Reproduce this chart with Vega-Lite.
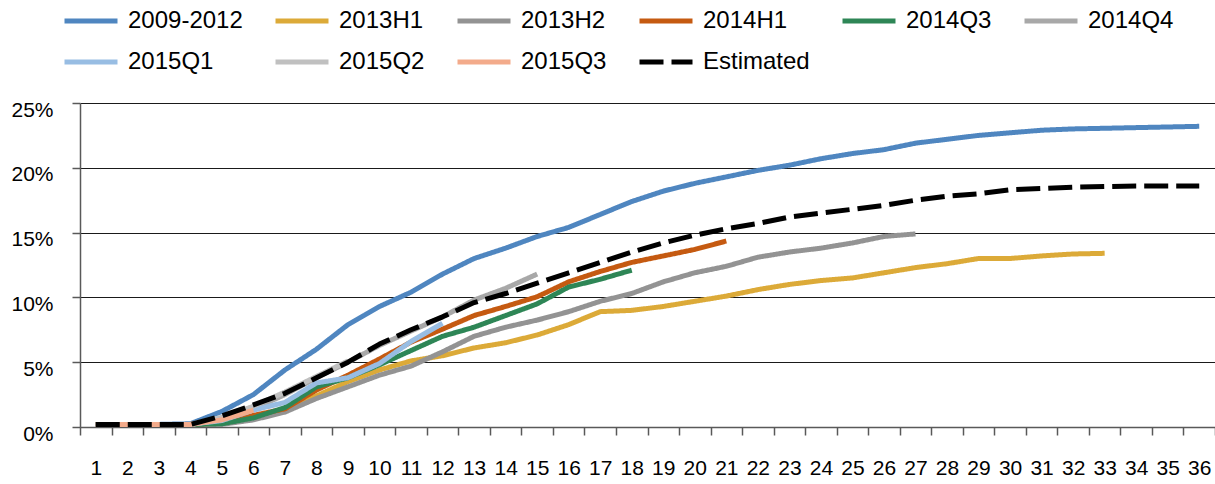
{
  "$schema": "https://vega.github.io/schema/vega-lite/v6.json",
  "autosize": {"type": "none"},
  "padding": {"left": 80, "top": 103, "right": 0, "bottom": 57},
  "width": 1135,
  "height": 324,
  "background": "white",
  "config": {
    "font": "Liberation Sans",
    "view": {"stroke": null}
  },
  "data": {
    "values": [
      {"s":"2009-2012","x":1,"v":0.2},{"s":"2009-2012","x":2,"v":0.2},{"s":"2009-2012","x":3,"v":0.2},{"s":"2009-2012","x":4,"v":0.25},{"s":"2009-2012","x":5,"v":1.2},{"s":"2009-2012","x":6,"v":2.5},{"s":"2009-2012","x":7,"v":4.4},{"s":"2009-2012","x":8,"v":6.0},{"s":"2009-2012","x":9,"v":7.9},{"s":"2009-2012","x":10,"v":9.3},{"s":"2009-2012","x":11,"v":10.4},{"s":"2009-2012","x":12,"v":11.8},{"s":"2009-2012","x":13,"v":13.0},{"s":"2009-2012","x":14,"v":13.8},{"s":"2009-2012","x":15,"v":14.7},{"s":"2009-2012","x":16,"v":15.4},{"s":"2009-2012","x":17,"v":16.4},{"s":"2009-2012","x":18,"v":17.4},{"s":"2009-2012","x":19,"v":18.2},{"s":"2009-2012","x":20,"v":18.8},{"s":"2009-2012","x":21,"v":19.3},{"s":"2009-2012","x":22,"v":19.8},{"s":"2009-2012","x":23,"v":20.2},{"s":"2009-2012","x":24,"v":20.7},{"s":"2009-2012","x":25,"v":21.1},{"s":"2009-2012","x":26,"v":21.4},{"s":"2009-2012","x":27,"v":21.9},{"s":"2009-2012","x":28,"v":22.2},{"s":"2009-2012","x":29,"v":22.5},{"s":"2009-2012","x":30,"v":22.7},{"s":"2009-2012","x":31,"v":22.9},{"s":"2009-2012","x":32,"v":23.0},{"s":"2009-2012","x":33,"v":23.05},{"s":"2009-2012","x":34,"v":23.1},{"s":"2009-2012","x":35,"v":23.15},{"s":"2009-2012","x":36,"v":23.2},
      {"s":"2013H1","x":1,"v":0.2},{"s":"2013H1","x":2,"v":0.2},{"s":"2013H1","x":3,"v":0.2},{"s":"2013H1","x":4,"v":0.2},{"s":"2013H1","x":5,"v":0.3},{"s":"2013H1","x":6,"v":0.7},{"s":"2013H1","x":7,"v":1.4},{"s":"2013H1","x":8,"v":2.4},{"s":"2013H1","x":9,"v":3.5},{"s":"2013H1","x":10,"v":4.4},{"s":"2013H1","x":11,"v":5.1},{"s":"2013H1","x":12,"v":5.5},{"s":"2013H1","x":13,"v":6.1},{"s":"2013H1","x":14,"v":6.5},{"s":"2013H1","x":15,"v":7.1},{"s":"2013H1","x":16,"v":7.9},{"s":"2013H1","x":17,"v":8.9},{"s":"2013H1","x":18,"v":9.0},{"s":"2013H1","x":19,"v":9.3},{"s":"2013H1","x":20,"v":9.7},{"s":"2013H1","x":21,"v":10.1},{"s":"2013H1","x":22,"v":10.6},{"s":"2013H1","x":23,"v":11.0},{"s":"2013H1","x":24,"v":11.3},{"s":"2013H1","x":25,"v":11.5},{"s":"2013H1","x":26,"v":11.9},{"s":"2013H1","x":27,"v":12.3},{"s":"2013H1","x":28,"v":12.6},{"s":"2013H1","x":29,"v":13.0},{"s":"2013H1","x":30,"v":13.0},{"s":"2013H1","x":31,"v":13.2},{"s":"2013H1","x":32,"v":13.35},{"s":"2013H1","x":33,"v":13.4},
      {"s":"2013H2","x":1,"v":0.2},{"s":"2013H2","x":2,"v":0.2},{"s":"2013H2","x":3,"v":0.2},{"s":"2013H2","x":4,"v":0.2},{"s":"2013H2","x":5,"v":0.2},{"s":"2013H2","x":6,"v":0.55},{"s":"2013H2","x":7,"v":1.15},{"s":"2013H2","x":8,"v":2.2},{"s":"2013H2","x":9,"v":3.1},{"s":"2013H2","x":10,"v":4.0},{"s":"2013H2","x":11,"v":4.7},{"s":"2013H2","x":12,"v":5.8},{"s":"2013H2","x":13,"v":7.0},{"s":"2013H2","x":14,"v":7.7},{"s":"2013H2","x":15,"v":8.25},{"s":"2013H2","x":16,"v":8.9},{"s":"2013H2","x":17,"v":9.7},{"s":"2013H2","x":18,"v":10.3},{"s":"2013H2","x":19,"v":11.2},{"s":"2013H2","x":20,"v":11.9},{"s":"2013H2","x":21,"v":12.4},{"s":"2013H2","x":22,"v":13.1},{"s":"2013H2","x":23,"v":13.5},{"s":"2013H2","x":24,"v":13.8},{"s":"2013H2","x":25,"v":14.2},{"s":"2013H2","x":26,"v":14.7},{"s":"2013H2","x":27,"v":14.9},
      {"s":"2014H1","x":1,"v":0.2},{"s":"2014H1","x":2,"v":0.2},{"s":"2014H1","x":3,"v":0.2},{"s":"2014H1","x":4,"v":0.2},{"s":"2014H1","x":5,"v":0.3},{"s":"2014H1","x":6,"v":0.9},{"s":"2014H1","x":7,"v":1.4},{"s":"2014H1","x":8,"v":2.85},{"s":"2014H1","x":9,"v":4.0},{"s":"2014H1","x":10,"v":5.25},{"s":"2014H1","x":11,"v":6.55},{"s":"2014H1","x":12,"v":7.55},{"s":"2014H1","x":13,"v":8.6},{"s":"2014H1","x":14,"v":9.3},{"s":"2014H1","x":15,"v":10.05},{"s":"2014H1","x":16,"v":11.2},{"s":"2014H1","x":17,"v":12.0},{"s":"2014H1","x":18,"v":12.7},{"s":"2014H1","x":19,"v":13.2},{"s":"2014H1","x":20,"v":13.7},{"s":"2014H1","x":21,"v":14.35},
      {"s":"2014Q3","x":1,"v":0.2},{"s":"2014Q3","x":2,"v":0.2},{"s":"2014Q3","x":3,"v":0.2},{"s":"2014Q3","x":4,"v":0.2},{"s":"2014Q3","x":5,"v":0.25},{"s":"2014Q3","x":6,"v":0.7},{"s":"2014Q3","x":7,"v":1.5},{"s":"2014Q3","x":8,"v":3.1},{"s":"2014Q3","x":9,"v":3.8},{"s":"2014Q3","x":10,"v":4.8},{"s":"2014Q3","x":11,"v":5.9},{"s":"2014Q3","x":12,"v":7.0},{"s":"2014Q3","x":13,"v":7.7},{"s":"2014Q3","x":14,"v":8.6},{"s":"2014Q3","x":15,"v":9.5},{"s":"2014Q3","x":16,"v":10.8},{"s":"2014Q3","x":17,"v":11.4},{"s":"2014Q3","x":18,"v":12.1},
      {"s":"2014Q4","x":1,"v":0.2},{"s":"2014Q4","x":2,"v":0.2},{"s":"2014Q4","x":3,"v":0.2},{"s":"2014Q4","x":4,"v":0.2},{"s":"2014Q4","x":5,"v":0.6},{"s":"2014Q4","x":6,"v":1.4},{"s":"2014Q4","x":7,"v":2.5},{"s":"2014Q4","x":8,"v":3.8},{"s":"2014Q4","x":9,"v":5.0},{"s":"2014Q4","x":10,"v":6.3},{"s":"2014Q4","x":11,"v":7.4},{"s":"2014Q4","x":12,"v":8.5},{"s":"2014Q4","x":13,"v":9.8},{"s":"2014Q4","x":14,"v":10.7},{"s":"2014Q4","x":15,"v":11.8},
      {"s":"2015Q1","x":1,"v":0.2},{"s":"2015Q1","x":2,"v":0.2},{"s":"2015Q1","x":3,"v":0.2},{"s":"2015Q1","x":4,"v":0.2},{"s":"2015Q1","x":5,"v":0.5},{"s":"2015Q1","x":6,"v":1.3},{"s":"2015Q1","x":7,"v":1.9},{"s":"2015Q1","x":8,"v":3.4},{"s":"2015Q1","x":9,"v":3.8},{"s":"2015Q1","x":10,"v":4.9},{"s":"2015Q1","x":11,"v":6.6},{"s":"2015Q1","x":12,"v":8.0},
      {"s":"2015Q2","x":1,"v":0.2},{"s":"2015Q2","x":2,"v":0.2},{"s":"2015Q2","x":3,"v":0.2},{"s":"2015Q2","x":4,"v":0.2},{"s":"2015Q2","x":5,"v":0.75},{"s":"2015Q2","x":6,"v":1.6},{"s":"2015Q2","x":7,"v":2.7},{"s":"2015Q2","x":8,"v":3.9},{"s":"2015Q2","x":9,"v":5.1},
      {"s":"2015Q3","x":1,"v":0.2},{"s":"2015Q3","x":2,"v":0.2},{"s":"2015Q3","x":3,"v":0.2},{"s":"2015Q3","x":4,"v":0.2},{"s":"2015Q3","x":5,"v":0.55},{"s":"2015Q3","x":6,"v":1.3},
      {"s":"Estimated","x":1,"v":0.2},{"s":"Estimated","x":2,"v":0.2},{"s":"Estimated","x":3,"v":0.2},{"s":"Estimated","x":4,"v":0.2},{"s":"Estimated","x":5,"v":0.85},{"s":"Estimated","x":6,"v":1.7},{"s":"Estimated","x":7,"v":2.6},{"s":"Estimated","x":8,"v":3.8},{"s":"Estimated","x":9,"v":5.0},{"s":"Estimated","x":10,"v":6.4},{"s":"Estimated","x":11,"v":7.5},{"s":"Estimated","x":12,"v":8.5},{"s":"Estimated","x":13,"v":9.6},{"s":"Estimated","x":14,"v":10.3},{"s":"Estimated","x":15,"v":11.1},{"s":"Estimated","x":16,"v":11.9},{"s":"Estimated","x":17,"v":12.7},{"s":"Estimated","x":18,"v":13.5},{"s":"Estimated","x":19,"v":14.2},{"s":"Estimated","x":20,"v":14.8},{"s":"Estimated","x":21,"v":15.3},{"s":"Estimated","x":22,"v":15.7},{"s":"Estimated","x":23,"v":16.2},{"s":"Estimated","x":24,"v":16.5},{"s":"Estimated","x":25,"v":16.8},{"s":"Estimated","x":26,"v":17.1},{"s":"Estimated","x":27,"v":17.5},{"s":"Estimated","x":28,"v":17.8},{"s":"Estimated","x":29,"v":18.0},{"s":"Estimated","x":30,"v":18.3},{"s":"Estimated","x":31,"v":18.4},{"s":"Estimated","x":32,"v":18.5},{"s":"Estimated","x":33,"v":18.55},{"s":"Estimated","x":34,"v":18.6},{"s":"Estimated","x":35,"v":18.6},{"s":"Estimated","x":36,"v":18.6}
    ]
  },
  "mark": {"type": "line", "strokeWidth": 5, "strokeJoin": "round", "strokeCap": "butt"},
  "encoding": {
    "x": {
      "field": "x", "type": "ordinal", "bandPosition": 0.5,
      "scale": {"type": "band", "paddingInner": 0, "paddingOuter": 0},
      "axis": {
        "title": null, "labelAngle": 0, "tickBand": "extent", "grid": false,
        "domainColor": "#595959", "domainWidth": 1.5, "tickColor": "#595959", "tickWidth": 1.5, "tickSize": 8,
        "labelFont": "Liberation Sans", "labelFontSize": 21, "labelColor": "#000000", "labelPadding": 22
      }
    },
    "y": {
      "field": "v", "type": "quantitative",
      "scale": {"domain": [0, 25], "nice": false, "zero": true},
      "axis": {
        "title": null, "values": [0, 5, 10, 15, 20, 25], "labelExpr": "datum.value + '%'",
        "grid": true, "gridColor": "#1a1a1a", "gridWidth": 1.2,
        "domainColor": "#595959", "domainWidth": 1.5, "tickColor": "#595959", "tickWidth": 1.5, "tickSize": 8,
        "labelFont": "Liberation Sans", "labelFontSize": 21, "labelColor": "#000000", "labelPadding": 19,
        "labelOffset": 7
      }
    },
    "color": {
      "field": "s", "type": "nominal",
      "scale": {
        "domain": ["2009-2012", "2013H1", "2013H2", "2014H1", "2014Q3", "2014Q4", "2015Q1", "2015Q2", "2015Q3", "Estimated"],
        "range": ["#4f86c0", "#dcaa38", "#939393", "#c55a11", "#2e8656", "#a8a8a8", "#98bde3", "#c0c0c0", "#f3ab8b", "#000000"]
      },
      "legend": {
        "title": null, "orient": "none", "legendX": -18, "legendY": -111,
        "columns": 6, "direction": "horizontal",
        "symbolType": "stroke", "symbolSize": 2809, "symbolStrokeWidth": 5,
        "labelOffset": 8, "columnPadding": 22, "rowPadding": -2,
        "labelFont": "Liberation Sans", "labelFontSize": 24, "labelColor": "#000000", "labelLimit": 0
      }
    },
    "strokeDash": {
      "field": "s", "type": "nominal",
      "scale": {
        "domain": ["2009-2012", "2013H1", "2013H2", "2014H1", "2014Q3", "2014Q4", "2015Q1", "2015Q2", "2015Q3", "Estimated"],
        "range": [[1, 0], [1, 0], [1, 0], [1, 0], [1, 0], [1, 0], [1, 0], [1, 0], [1, 0], [24, 8]]
      },
      "legend": {
        "title": null, "orient": "none", "legendX": -18, "legendY": -111,
        "columns": 6, "direction": "horizontal",
        "symbolType": "stroke", "symbolSize": 2809, "symbolStrokeWidth": 5,
        "labelOffset": 8, "columnPadding": 22, "rowPadding": -2,
        "labelFont": "Liberation Sans", "labelFontSize": 24, "labelColor": "#000000", "labelLimit": 0
      }
    }
  }
}
